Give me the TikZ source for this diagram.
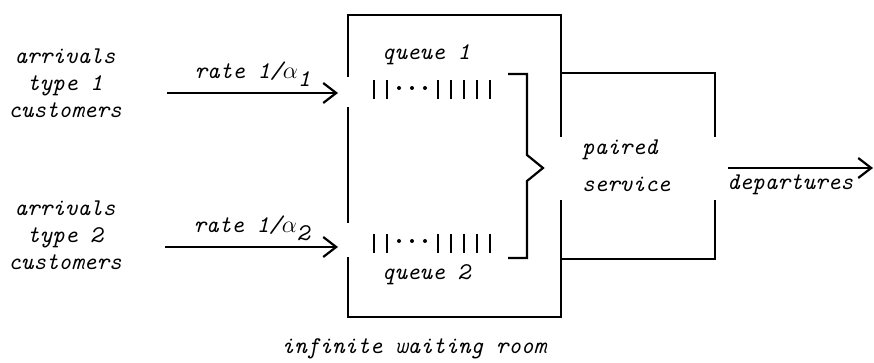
\documentclass[tikz,border=0pt]{standalone}
\usepackage{fontspec}
\usetikzlibrary{arrows.meta, positioning}

\begin{document}
\begin{tikzpicture}[
  x=0.5pt, y=-0.5pt,
  line width=1.1pt,
  txt/.style={font=\fontsize{12}{13.5}\selectfont\ttfamily\itshape, inner sep=1pt, align=center},
  arrow/.style={-{Straight Barb[length=6.5pt, width=10pt, line width=1.1pt]}}
]
  \useasboundingbox (0,0) rectangle (874,363);

  % Arrivals
  \node[txt] (arr1) at (65,83) {arrivals\\type 1\\customers};
  \node[txt] (arr2) at (65,235) {arrivals\\type 2\\customers};
  \coordinate (in1) at (167,93);
  \coordinate (gate1) at (338,93);
  \coordinate (in2) at (165,247);
  \coordinate (gate2) at (338,247);
  \draw[arrow] (in1) -- node[txt, above=1.5pt] (rate1) {rate 1/$\alpha$\raisebox{-0.8ex}{1}} (gate1);
  \draw[arrow] (in2) -- node[txt, above=1.5pt] (rate2) {rate 1/$\alpha$\raisebox{-0.8ex}{2}} (gate2);

  % Waiting room, open where the customers come in
  \draw (348,77) -- (348,15) -- (561,15) -- (561,137);
  \draw (348,107) -- (348,223);
  \draw (348,257) -- (348,317) -- (561,317) -- (561,200);
  \node[txt] (room) at (414,349) {infinite waiting room};

  % Queues
  \node[txt] (q1) at (426,55) {queue 1};
  \node[txt] (q2) at (426,275) {queue 2};
  \foreach \x in {374,387,438,451,464,477,490} {
    \draw (\x,80) -- (\x,99);
    \draw (\x,234) -- (\x,253);
  }
  \foreach \x in {399,412,425} {
    \fill (\x,88) circle (1pt);
    \fill (\x,241) circle (1pt);
  }
  \draw (508,74) -- (527,74) -- (527,155) -- (543,168) -- (527,181) -- (527,258) -- (508,258);

  % Paired service
  \draw (561,73) -- (715,73) -- (715,137);
  \draw (715,200) -- (715,259) -- (561,259);
  \node[txt, align=left, anchor=west] (paired) at (579,166) {paired\\[5pt]service};

  % Departures
  \coordinate (out) at (728,168);
  \coordinate (away) at (873,168);
  \draw[arrow] (out) -- (away);
  \node[txt, below right=2pt and -2pt of out] (dep) {departures};
\end{tikzpicture}
\end{document}
